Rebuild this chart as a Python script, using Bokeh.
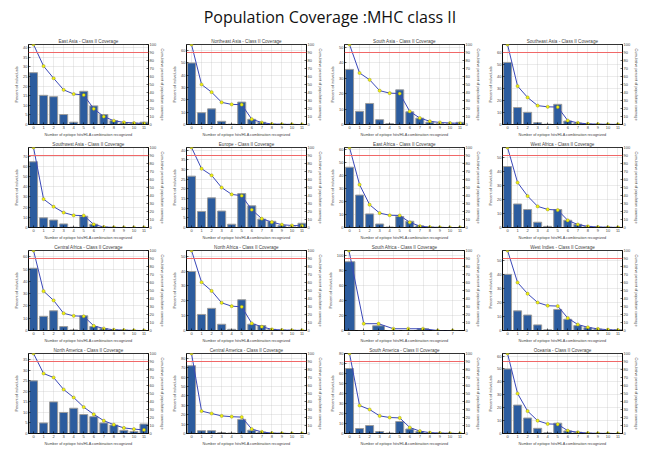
from bokeh.plotting import figure
from bokeh.models import Range1d, LinearAxis, Div, FixedTicker, Span
from bokeh.layouts import gridplot, column
from bokeh.embed import file_html
from bokeh.resources import INLINE

TITLE = "Population Coverage :MHC class II"
hits = list(range(12))
hits_sa = list(range(8))
threshold = 90

regions = ["East Asia", "Northeast Asia", "South Asia", "Southeast Asia",
           "Southwest Asia", "Europe", "East Africa", "West Africa",
           "Central Africa", "North Africa", "South Africa", "West Indies",
           "North America", "Central America", "South America", "Oceania"]

# percent of individuals per number of epitope hits
east_asia_pct = [27.0, 15.2, 14.5, 5.2, 1.2, 17.3, 9.7, 5.2, 2.0, 0.8, 0.7, 1.2]
east_asia_cov = [100, 73.0, 57.8, 43.3, 38.1, 36.9, 19.6, 9.9, 4.7, 2.7, 1.9, 1.2]
ne_asia_pct = [50.0, 9.6, 12.7, 2.6, 0.3, 18.2, 4.2, 1.8, 0.3, 0.2, 0.1, 0.0]
ne_asia_cov = [100, 50.0, 40.4, 27.7, 25.1, 24.8, 6.6, 2.4, 0.6, 0.3, 0.1, 0.0]
s_asia_pct = [35.6, 8.5, 13.6, 3.1, 0.5, 22.4, 8.2, 4.1, 1.5, 0.6, 0.5, 1.4]
s_asia_cov = [100, 64.4, 55.9, 42.3, 39.2, 38.7, 16.3, 8.1, 4.0, 2.5, 1.9, 1.4]
se_asia_pct = [52.0, 14.2, 10.2, 1.5, 0.3, 16.9, 2.9, 1.2, 0.4, 0.2, 0.1, 0.1]
se_asia_cov = [100, 48.0, 33.8, 23.6, 22.1, 21.8, 4.9, 2.0, 0.8, 0.4, 0.2, 0.1]
sw_asia_pct = [64.5, 9.5, 7.3, 3.5, 0.3, 11.1, 3.2, 0.5, 0.1, 0.0, 0.0, 0.0]
sw_asia_cov = [100, 35.5, 26.0, 18.7, 15.2, 14.9, 3.8, 0.6, 0.1, 0.0, 0.0, 0.0]
europe_pct = [26.5, 8.3, 15.3, 8.5, 1.7, 17.5, 11.2, 4.3, 3.2, 1.0, 0.3, 2.2]
europe_cov = [100, 73.5, 65.2, 49.9, 41.4, 39.7, 22.2, 11.0, 6.7, 3.5, 2.5, 2.2]
e_africa_pct = [46.5, 25.0, 10.5, 2.7, 0.3, 8.5, 4.8, 1.3, 0.3, 0.1, 0.0, 0.0]
e_africa_cov = [100, 53.5, 28.5, 18.0, 15.3, 15.0, 6.5, 1.7, 0.4, 0.1, 0.0, 0.0]
w_africa_pct = [43.8, 16.9, 12.9, 3.8, 0.8, 12.9, 5.2, 2.3, 0.8, 0.3, 0.2, 0.1]
w_africa_cov = [100, 56.2, 39.3, 26.4, 22.6, 21.8, 8.9, 3.7, 1.4, 0.6, 0.3, 0.1]
c_africa_pct = [50.8, 11.6, 16.1, 3.2, 0.5, 12.0, 3.3, 1.6, 0.5, 0.3, 0.1, 0.0]
c_africa_cov = [100, 49.2, 37.6, 21.5, 18.3, 17.8, 5.8, 2.5, 0.9, 0.4, 0.1, 0.0]
n_africa_pct = [39.7, 10.8, 14.9, 4.2, 0.8, 20.7, 4.2, 3.3, 0.8, 0.3, 0.2, 0.1]
n_africa_cov = [100, 60.3, 49.5, 34.6, 30.4, 29.6, 8.9, 4.7, 1.4, 0.6, 0.3, 0.1]
s_africa_pct = [91.5, 0.0, 6.3, 0.0, 0.0, 2.2, 0.0, 0.0]
s_africa_cov = [100, 8.5, 8.5, 2.2, 2.2, 2.2, 0.0, 0.0]
w_indies_pct = [40.0, 14.0, 11.0, 4.0, 0.5, 15.0, 8.0, 3.5, 2.0, 1.0, 0.5, 0.5]
w_indies_cov = [100, 60.0, 46.0, 35.0, 31.0, 30.5, 15.5, 7.5, 4.0, 2.0, 1.0, 0.5]
n_america_pct = [25.0, 5.0, 15.0, 10.0, 12.0, 9.0, 8.0, 5.0, 4.0, 1.5, 1.0, 4.5]
n_america_cov = [100, 75.0, 70.0, 55.0, 45.0, 33.0, 24.0, 16.0, 11.0, 7.0, 5.5, 4.5]
c_america_pct = [72.0, 3.0, 3.0, 1.0, 0.5, 15.0, 3.5, 1.5, 0.3, 0.2, 0.0, 0.0]
c_america_cov = [100, 28.0, 25.0, 22.0, 21.0, 20.5, 5.5, 2.0, 0.5, 0.2, 0.0, 0.0]
s_america_pct = [65.0, 5.0, 8.0, 2.0, 0.5, 12.0, 4.5, 2.0, 0.5, 0.3, 0.2, 0.0]
s_america_cov = [100, 35.0, 30.0, 22.0, 20.0, 19.5, 7.5, 3.0, 1.0, 0.5, 0.2, 0.0]
oceania_pct = [50.0, 22.0, 12.0, 4.0, 0.5, 8.0, 2.0, 1.0, 0.3, 0.1, 0.1, 0.0]
oceania_cov = [100, 50.0, 28.0, 16.0, 12.0, 11.5, 3.5, 1.5, 0.5, 0.2, 0.1, 0.0]

pct_series = [east_asia_pct, ne_asia_pct, s_asia_pct, se_asia_pct,
              sw_asia_pct, europe_pct, e_africa_pct, w_africa_pct,
              c_africa_pct, n_africa_pct, s_africa_pct, w_indies_pct,
              n_america_pct, c_america_pct, s_america_pct, oceania_pct]
cov_series = [east_asia_cov, ne_asia_cov, s_asia_cov, se_asia_cov,
              sw_asia_cov, europe_cov, e_africa_cov, w_africa_cov,
              c_africa_cov, n_africa_cov, s_africa_cov, w_indies_cov,
              n_america_cov, c_america_cov, s_america_cov, oceania_cov]

# left-axis extent and tick step per panel
left_max = [41.7, 65, 51.7, 67, 78.5, 41.3, 61.7, 57.5,
            65.3, 53.8, 106.4, 57, 38, 85, 80, 62]
left_step = [5, 10, 10, 10, 10, 5, 10, 10,
             10, 10, 20, 10, 5, 10, 10, 10]

BAR = "#2c5c9e"
BAR_EDGE = "#9c9c9c"
LINE = "#3a48b8"
MARK = "#eeee10"
RED = "#f06868"
FONT = "Liberation Sans"

W, H = 158, 103


def panel(name, pct, cov, lmax, step):
    xs = hits if len(pct) == 12 else hits_sa
    xr = Range1d(-0.5, 11.45) if len(pct) == 12 else Range1d(-0.3, 7.8)
    p = figure(width=W, height=H, x_range=xr, y_range=Range1d(0, lmax),
               output_backend="svg", toolbar_location=None,
               title=name + " - Class II Coverage",
               min_border_left=19, min_border_right=15,
               min_border_top=8, min_border_bottom=15)
    p.extra_y_ranges = {"cov": Range1d(0, 100)}
    p.title.text_font = FONT
    p.title.text_font_size = "4.6px"
    p.title.text_font_style = "normal"
    p.title.align = "center"
    p.title.standoff = 1
    p.title.offset = 0
    p.outline_line_color = "black"
    p.outline_line_width = 0.8
    p.background_fill_color = "white"
    p.border_fill_color = "white"

    ticks_l = list(range(0, int(lmax) + 1, step))
    p.yaxis.ticker = FixedTicker(ticks=ticks_l)
    p.xaxis.ticker = FixedTicker(ticks=xs)
    p.xaxis.axis_label = "Number of epitope hits/HLA combination recognized"
    p.yaxis.axis_label = "Percent of individuals"

    right = LinearAxis(y_range_name="cov",
                       ticker=FixedTicker(ticks=list(range(0, 101, 10))),
                       axis_label="Cumulative percent of population coverage")
    p.add_layout(right, "right")

    for ax in p.xaxis + p.yaxis + [right]:
        ax.axis_label_text_font = FONT
        ax.axis_label_text_font_size = "3.8px"
        ax.axis_label_text_font_style = "normal"
        ax.axis_label_standoff = 1
        ax.major_label_text_font = FONT
        ax.major_label_text_font_size = "4px"
        ax.major_label_standoff = 1
        ax.major_tick_in = 2
        ax.major_tick_out = 0
        ax.minor_tick_line_color = None
        ax.axis_line_color = "black"
        ax.axis_line_width = 0.8
        ax.major_tick_line_width = 0.6

    p.xgrid.grid_line_color = "#bdbdbd"
    p.xgrid.grid_line_dash = "1 1"
    p.xgrid.grid_line_width = 0.6
    p.ygrid.grid_line_color = "#bdbdbd"
    p.ygrid.grid_line_dash = "1 1"
    p.ygrid.grid_line_width = 0.6

    p.vbar(x=xs, top=pct, width=0.8, fill_color=BAR,
           line_color=BAR_EDGE, line_width=1)
    p.add_layout(Span(location=threshold, dimension="width", y_range_name="cov",
                      line_color=RED, line_width=1.1))
    p.line(xs, cov, y_range_name="cov", line_color=LINE, line_width=1)
    p.scatter(xs, cov, y_range_name="cov", size=3.2, fill_color=MARK,
              line_color="#8a8a20", line_width=0.4)
    return p


figs = [panel(n, a, b, m, s) for n, a, b, m, s in
        zip(regions, pct_series, cov_series, left_max, left_step)]
rows = [figs[i:i + 4] for i in range(0, 16, 4)]
grid = gridplot(rows, toolbar_location=None)
grid.margin = (0, 0, 0, 9)

head = Div(text=TITLE, width=650, height=26,
           styles={"font-family": "Open Sans", "font-size": "16px",
                   "text-align": "center", "width": "650px",
                   "line-height": "24px", "color": "#111"})
layout = column(head, grid)

open("out.html", "w").write(file_html(layout, INLINE))
